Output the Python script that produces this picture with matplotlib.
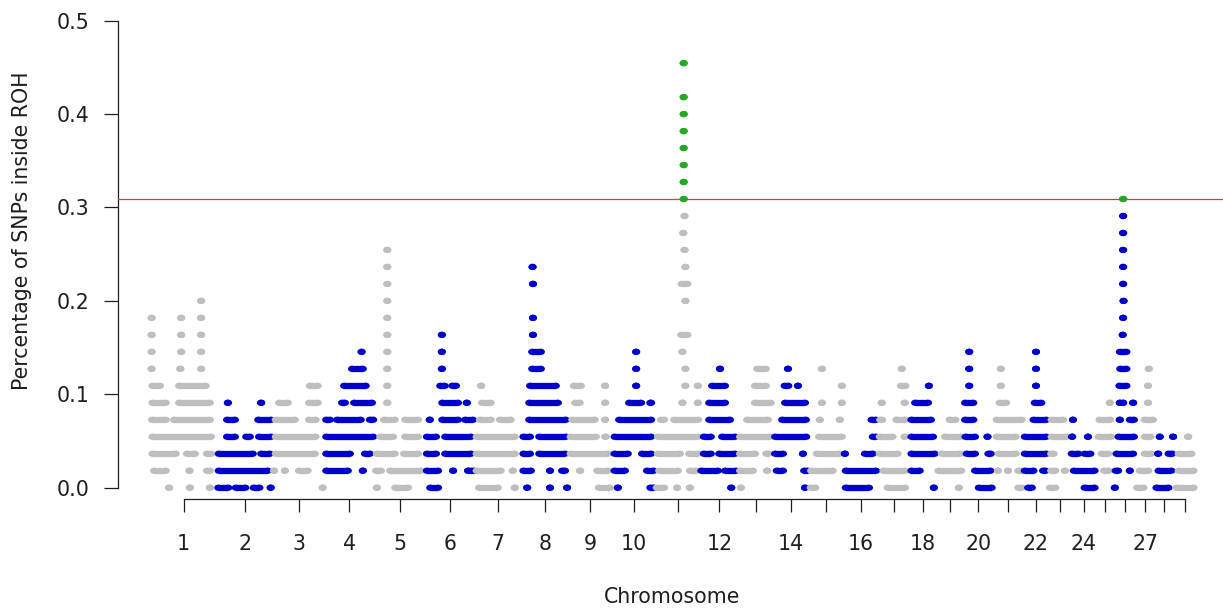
import numpy as np
import matplotlib
matplotlib.use("Agg")
import matplotlib.pyplot as plt
from matplotlib.path import Path
from matplotlib.collections import LineCollection

# ---------------- data ----------------
chromosomes = list(range(1, 30))
chrom_len_mb = [158.3, 137.1, 121.4, 120.8, 121.2, 119.5, 112.6, 113.4, 105.7, 104.3,
                107.3, 91.2, 84.2, 84.6, 85.3, 81.7, 75.2, 66.0, 64.0, 72.0,
                71.6, 61.4, 52.5, 62.7, 42.9, 51.7, 45.4, 46.3, 51.5]
tick_labels = ["1", "2", "3", "4", "5", "6", "7", "8", "9", "10", "", "12", "", "14", "",
               "16", "", "18", "", "20", "", "22", "", "24", "", "", "27", "", ""]
n_samples = 55            # percentage = animals in ROH / n_samples
roh_threshold = 0.309
y_ticks = [0.0, 0.1, 0.2, 0.3, 0.4, 0.5]

# runs of SNPs per chromosome: {animals in ROH: [position Mb, or (start Mb, end Mb)]}
chr01 = {11: [121], 10: [2, 73, 121], 9: [2, 73, 121], 8: [2, 73, 121], 7: [2, 71, 121],
         6: [(4, 22), (68, 132)], 5: [(4, 36), (68, 142)], 4: [(3, 36), (56, 142)],
         3: [(4, 145)], 2: [(4, 60), (87, 106), (135, 145)], 1: [(8, 36), 93, (135, 142)],
         0: [44, 94, 142]}
chr02 = {5: [27, 107], 4: [(25, 44), (100, 131)], 3: [(25, 44), (71, 80), (102, 131)],
         2: [(5, 87), (107, 128)], 1: [(5, 123)], 0: [(4, 28), (46, 69), (89, 103), 130]}
chr03 = {6: [(87, 106)], 5: [(13, 34), (85, 106)], 4: [(5, 51), (85, 101)], 3: [(5, 101)],
         2: [(5, 99)], 1: [1, 27, (61, 82)], 0: [118]}
chr04 = {8: [90], 7: [(67, 93)], 6: [(48, 100)], 5: [(43, 50), (72, 115)],
         4: [(5, 14), (31, 88), (110, 118)], 3: [(5, 118)], 2: [(5, 62), (98, 110)],
         1: [(5, 57), 93]}
chr05 = {14: [31], 13: [31], 12: [31], 11: [31], 10: [31], 9: [31], 8: [31], 7: [31],
         6: [31], 5: [31], 4: [(23, 49), (74, 105)], 3: [(14, 45), (74, 105)],
         2: [(6, 49), (71, 105)], 1: [(4, 16), (38, 112)], 0: [6, (50, 81)]}
chr06 = {9: [41], 8: [41], 7: [41], 6: [(37, 48), (66, 75)], 5: [(42, 80), 101],
         4: [12, (42, 80), (97, 116)], 3: [(5, 27), (49, 111)], 2: [(5, 27), (49, 111)],
         1: [(5, 32), 68, 104, (110, 118)], 0: [(13, 32)]}
chr07 = {6: [16], 5: [(18, 39)], 4: [(13, 39), (61, 87)], 3: [(5, 97)], 2: [(5, 97)],
         1: [(5, 63), 92], 0: [(11, 56), 97]}
chr08 = {13: [27], 12: [28], 10: [28], 9: [28], 8: [(26, 47)], 7: [(26, 47)], 6: [(21, 83)],
         5: [(19, 88)], 4: [(19, 107)], 3: [(5, 21), (43, 107)], 2: [(5, 21), (43, 105)],
         1: [(5, 23), 69, (98, 105)], 0: [14, 69, 110]}
chr09 = {6: [(13, 30), 88], 5: [(16, 27), 88], 4: [(9, 63), 88], 3: [(5, 66), (88, 90)],
         2: [(5, 95)], 1: [28, (69, 95)], 0: [(73, 99)]}
chr10 = {8: [57], 7: [57], 6: [57], 5: [(40, 69), (91, 93)], 4: [(16, 93)], 3: [(5, 93)],
         2: [(5, 37), (71, 93)], 1: [(5, 30), (83, 99)], 0: [13, (91, 99)]}
chr11 = {25: [67], 23: [67], 22: [67], 21: [67], 20: [67], 19: [67], 18: [67], 17: [67],
         16: [69], 15: [66], 14: [69], 13: [71], 12: [(62, 76)], 11: [71], 9: [(61, 76)],
         8: [64], 7: [71], 6: [71, 101], 5: [64, 101], 4: [(12, 20), (44, 102)],
         3: [(5, 101)], 2: [(5, 58), (80, 101)], 1: [(8, 53), (82, 96)], 0: [(2, 20), 51, 82]}
chr12 = {7: [47], 6: [(28, 59)], 5: [(21, 59)], 4: [(21, 71)], 3: [(8, 25), (52, 83)],
         2: [(8, 25), (45, 83)], 1: [(2, 42), (59, 86)], 0: [74]}
chr13 = {7: [(45, 66)], 6: [(40, 66)], 5: [(40, 78)], 4: [(21, 71)], 3: [(4, 76)],
         2: [(4, 40), (67, 73)], 1: [(4, 35), 69], 0: [6]}
chr14 = {7: [35], 6: [(27, 36), 59], 5: [(28, 76)], 4: [(21, 78)], 3: [(4, 79)],
         2: [(4, 23), 71], 1: [(8, 23), (74, 82)], 0: [76]}
chr15 = {7: [32], 6: [80], 5: [32, 80], 4: [27, 75], 3: [(25, 80)], 2: [(20, 75)],
         1: [(6, 58)], 0: [(5, 16)]}
chr16 = {4: [(66, 77)], 3: [(69, 77)], 2: [2, (50, 69)], 1: [(4, 77)], 0: [(4, 60)]}
chr17 = {7: [57], 6: [(55, 66)], 5: [9, 64], 4: [(5, 10), (44, 65)], 3: [(4, 35), 64],
         2: [(4, 47)], 1: [(13, 65)], 0: [(23, 65)]}
chr18 = {6: [47], 5: [(14, 45)], 4: [(5, 52)], 3: [(5, 57)], 2: [(5, 61)], 1: [(5, 25)],
         0: [59]}
chr19 = {4: [(31, 45)], 3: [(20, 58)], 2: [(12, 56)], 1: [(4, 59)], 0: [53]}
chr20 = {8: [14], 7: [14], 6: [14], 5: [(4, 24)], 4: [(4, 24)], 3: [(5, 28), 58],
         2: [(8, 28), (60, 66)], 1: [(28, 65)], 0: [(37, 68)]}
chr21 = {7: [18], 6: [18], 5: [(15, 31)], 4: [(8, 68)], 3: [(8, 54)], 2: [(13, 54)],
         1: [11, 35, (60, 68)], 0: [(60, 68)]}
chr22 = {8: [31], 7: [31], 6: [31], 5: [(28, 44)], 4: [(25, 56)], 3: [(4, 56)],
         2: [(4, 56)], 1: [(4, 25), (48, 54)], 0: [(12, 21)]}
chr23 = {4: [(7, 35)], 3: [(7, 43)], 2: [(6, 12)], 1: [(6, 16), 39], 0: [(3, 16)]}
chr24 = {4: [6], 3: [4, 42], 2: [(3, 19), (34, 48)], 1: [(8, 58)], 0: [(34, 58)]}
chr25 = {5: [32], 4: [(7, 33)], 3: [(5, 35)], 2: [(12, 28)], 1: [(18, 29)]}
chr26 = {17: [21], 16: [21], 15: [21], 14: [21], 13: [21], 12: [21], 11: [22], 10: [21],
         9: [20], 8: [(13, 29)], 7: [(14, 29)], 6: [(12, 29)], 5: [13, 21, 45],
         4: [13, (37, 47)], 3: [(10, 47)], 2: [(5, 45)], 1: [(3, 9), 37], 0: [1]}
chr27 = {7: [31], 6: [29], 5: [29], 4: [(21, 41)], 3: [(21, 35)], 2: [(21, 37)],
         1: [(9, 30)], 0: [(3, 18)]}
chr28 = {3: [12, 44], 2: [8, (33, 42)], 1: [(9, 40)], 0: [(4, 33)]}
chr29 = {3: [34], 2: [(11, 42)], 1: [(11, 47)], 0: [(6, 47)]}

roh_runs = [chr01, chr02, chr03, chr04, chr05, chr06, chr07, chr08, chr09, chr10,
            chr11, chr12, chr13, chr14, chr15, chr16, chr17, chr18, chr19, chr20,
            chr21, chr22, chr23, chr24, chr25, chr26, chr27, chr28, chr29]

# ---------------- style ----------------
GREY = "#BEBEBE"
BLUE = "#0000CD"
GREEN = "#22AA22"
RED = "#C84444"
TXT = "#1e1e1e"
FONT = "DejaVu Sans"
FS = 14.8

W, H = 1223, 608
fig = plt.figure(figsize=(W / 100, H / 100), dpi=100)

ax_left, ax_right, ax_bottom_px, ax_top_px = 118.3, 1226.7, 499.0, 0.0
ax = fig.add_axes([ax_left / W, (H - ax_bottom_px) / H,
                   (ax_right - ax_left) / W, (ax_bottom_px - ax_top_px) / H])

starts = np.concatenate([[0.0], np.cumsum(chrom_len_mb)[:-1]])
mids = starts + np.array(chrom_len_mb) / 2.0

circ = Path.unit_circle()
ellipse = Path(circ.vertices * np.array([1.0, 0.78]), circ.codes)
MS = 5.8          # marker width in points
LW = MS * 0.78    # band thickness in points

for ci, runs in enumerate(roh_runs):
    off = starts[ci]
    base = GREY if ci % 2 == 0 else BLUE
    segs, seg_cols, px, py, pc = [], [], [], [], []
    for level, items in runs.items():
        y = level / n_samples
        col = GREEN if y >= roh_threshold else base
        for it in items:
            a, b = (it, it) if np.isscalar(it) else it
            if b > a:
                segs.append([(off + a, y), (off + b, y)])
                seg_cols.append(col)
            px += [off + a, off + b]
            py += [y, y]
            pc += [col, col]
    if segs:
        ax.add_collection(LineCollection(segs, colors=seg_cols, linewidths=LW,
                                         capstyle="butt", zorder=2))
    ax.scatter(px, py, s=MS ** 2, marker=ellipse, c=pc, linewidths=0, zorder=2)

ax.axhline(roh_threshold, color=RED, lw=0.9, zorder=5)

ax.set_xlim((ax_left - 150.8) / 0.4159, (ax_right - 150.8) / 0.4159)
ax.set_ylim(-(ax_bottom_px - 487.7) / 934.0, 487.7 / 934.0)

for s in ["top", "right"]:
    ax.spines[s].set_visible(False)
ax.spines["left"].set_bounds(0, 0.5)
ax.spines["bottom"].set_bounds(mids[0], mids[-1])
for s in ["left", "bottom"]:
    ax.spines[s].set_color(TXT)
    ax.spines[s].set_linewidth(0.9)

ax.set_xticks(mids)
ax.set_xticklabels(tick_labels, fontsize=FS, family=FONT, color=TXT)
ax.set_yticks(y_ticks)
ax.set_yticklabels([f"{v:.1f}" for v in y_ticks], fontsize=FS, family=FONT, color=TXT)
ax.tick_params(axis="x", length=9.7, width=0.9, pad=15.5, color=TXT)
ax.tick_params(axis="y", length=9.9, width=0.9, pad=10.8, color=TXT)

fig.text(22 / W, 1 - 231 / H, "Percentage of SNPs inside ROH", rotation=90,
         ha="center", va="center", fontsize=FS, family=FONT, color=TXT)
fig.text(672.5 / W, (H - 603) / H, "Chromosome", ha="center", va="baseline",
         fontsize=FS, family=FONT, color=TXT)

fig.savefig("out.png", dpi=100)
